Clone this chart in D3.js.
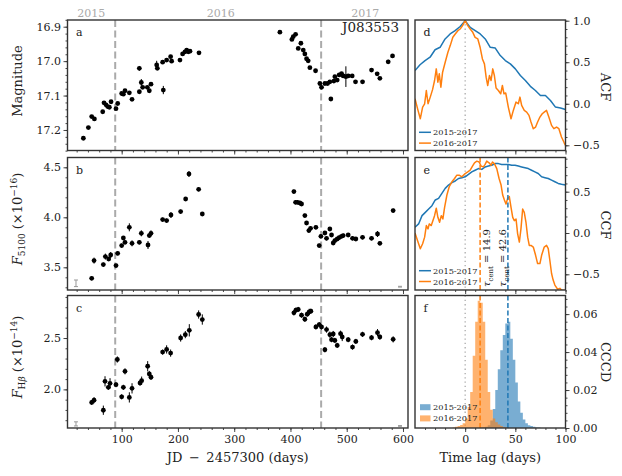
<!DOCTYPE html>
<html><head><meta charset="utf-8">
<script src="https://cdn.jsdelivr.net/npm/d3@7"></script>
<style>body{margin:0;background:#fff} svg{display:block}</style>
</head><body><svg id="c" width="622" height="476"></svg>
<script>
// ---------------- DATA ----------------
// Panel a: V-band magnitude light curve
const magJD = [31.9, 40.8, 46.7, 51.5, 66.3, 68.6, 72.2, 75.1, 78.1, 81.1, 89.9, 92.9, 100.0, 103.0, 105.9, 113.6, 118.4, 131.4, 131.4, 134.9, 137.3, 145.6, 149.1, 152.1, 162.2, 163.4, 172.8, 174.0, 179.9, 187.0, 188.8, 203.6, 208.3, 212.5, 215.5, 218.4, 221.4, 237.4, 381.2, 402.5, 404.9, 409.1, 413.8, 418.5, 422.7, 425.6, 428.6, 431.5, 434.5, 444.6, 452.3, 455.2, 461.2, 465.9, 470.0, 471.8, 477.1, 478.9, 483.1, 486.6, 490.8, 493.7, 498.5, 502.6, 509.7, 515.6, 528.1, 544.1, 554.1, 558.9, 573.7, 581.4];
const magVal = [17.224, 17.193, 17.161, 17.168, 17.147, 17.121, 17.127, 17.132, 17.134, 17.118, 17.138, 17.123, 17.094, 17.096, 17.086, 17.092, 17.111, 17.021, 17.089, 17.062, 17.076, 17.076, 17.086, 17.067, 17.011, 17.021, 17.003, 17.084, 16.997, 16.987, 17.000, 16.997, 16.979, 16.973, 16.968, 16.973, 16.971, 16.976, 16.916, 16.937, 16.929, 16.922, 16.963, 16.948, 16.968, 16.979, 16.993, 16.999, 17.019, 17.028, 17.065, 17.076, 17.065, 17.065, 17.060, 17.110, 17.058, 17.045, 17.055, 17.040, 17.036, 17.043, 17.045, 17.043, 17.043, 17.060, 17.060, 17.026, 17.037, 17.050, 17.002, 16.985];
const magErr = [0.004, 0.004, 0.004, 0.004, 0.004, 0.004, 0.004, 0.004, 0.004, 0.004, 0.004, 0.004, 0.004, 0.004, 0.004, 0.004, 0.004, 0.007, 0.004, 0.010, 0.004, 0.004, 0.004, 0.004, 0.012, 0.004, 0.004, 0.012, 0.004, 0.004, 0.004, 0.004, 0.004, 0.004, 0.004, 0.004, 0.004, 0.004, 0.004, 0.004, 0.004, 0.004, 0.004, 0.004, 0.004, 0.004, 0.004, 0.004, 0.004, 0.004, 0.004, 0.004, 0.004, 0.004, 0.004, 0.004, 0.004, 0.004, 0.004, 0.004, 0.004, 0.004, 0.030, 0.004, 0.004, 0.004, 0.004, 0.004, 0.004, 0.004, 0.006, 0.004];

// Panel b: 5100A continuum flux
const contJD = [46.7, 50.9, 67.4, 71.0, 76.9, 80.5, 89.9, 92.9, 100.0, 103.0, 105.9, 113.6, 118.4, 131.4, 134.9, 146.8, 149.1, 152.1, 172.8, 179.9, 187.6, 204.8, 213.7, 219.6, 236.8, 243.3, 406.1, 409.1, 412.6, 416.8, 419.7, 425.6, 428.6, 432.7, 435.7, 445.2, 451.1, 454.1, 461.2, 464.1, 470.0, 473.0, 476.0, 478.9, 483.1, 486.6, 490.8, 493.7, 502.6, 510.3, 516.2, 528.1, 544.1, 554.7, 558.9, 582.5];
const contVal = [3.39, 3.567, 3.527, 3.607, 3.583, 3.623, 3.517, 3.64, 3.717, 3.793, 3.75, 3.9, 3.74, 3.75, 3.84, 3.723, 3.817, 3.84, 3.977, 3.967, 4.023, 4.057, 4.183, 4.433, 4.28, 4.033, 4.257, 4.15, 4.15, 4.143, 4.133, 4.017, 3.943, 3.867, 3.89, 3.9, 3.717, 3.81, 3.843, 3.79, 3.883, 3.823, 3.743, 3.767, 3.783, 3.797, 3.81, 3.817, 3.823, 3.79, 3.783, 3.8, 3.79, 3.833, 3.74, 4.067];
const contErr = [0.02, 0.03, 0.02, 0.03, 0.02, 0.03, 0.02, 0.02, 0.02, 0.02, 0.02, 0.04, 0.03, 0.02, 0.03, 0.04, 0.02, 0.03, 0.02, 0.02, 0.03, 0.02, 0.02, 0.03, 0.02, 0.02, 0.02, 0.02, 0.02, 0.02, 0.02, 0.02, 0.02, 0.02, 0.02, 0.02, 0.02, 0.02, 0.02, 0.02, 0.02, 0.02, 0.02, 0.02, 0.02, 0.02, 0.02, 0.02, 0.02, 0.02, 0.02, 0.02, 0.02, 0.03, 0.02, 0.02];

// Panel c: H-beta flux
const hbJD = [46.7, 50.9, 67.4, 70.4, 76.3, 79.3, 89.9, 92.3, 100.0, 103.0, 105.9, 113.6, 118.4, 132.6, 135.5, 146.2, 149.1, 152.1, 172.8, 179.9, 187.0, 204.8, 213.1, 220.2, 236.8, 243.3, 406.1, 409.6, 413.8, 419.7, 425.6, 429.8, 433.3, 436.3, 445.2, 451.1, 455.2, 461.2, 464.1, 470.0, 473.0, 476.0, 478.9, 483.1, 489.0, 492.0, 502.6, 510.3, 516.2, 528.1, 544.1, 554.7, 558.9, 582.5];
const hbVal = [1.873, 1.895, 1.797, 2.078, 2.02, 2.059, 2.046, 2.291, 1.928, 2.02, 2.176, 1.922, 2.01, 2.062, 2.085, 2.225, 2.15, 2.118, 2.363, 2.389, 2.353, 2.5, 2.533, 2.575, 2.729, 2.68, 2.745, 2.771, 2.778, 2.722, 2.683, 2.732, 2.755, 2.761, 2.608, 2.631, 2.608, 2.386, 2.582, 2.533, 2.484, 2.539, 2.477, 2.428, 2.542, 2.51, 2.484, 2.412, 2.467, 2.536, 2.503, 2.552, 2.51, 2.487];
const hbErr = [0.025, 0.03, 0.045, 0.05, 0.025, 0.05, 0.025, 0.03, 0.025, 0.025, 0.03, 0.05, 0.05, 0.025, 0.04, 0.05, 0.03, 0.025, 0.025, 0.04, 0.035, 0.035, 0.035, 0.06, 0.04, 0.05, 0.025, 0.025, 0.025, 0.025, 0.025, 0.025, 0.03, 0.025, 0.025, 0.025, 0.025, 0.025, 0.03, 0.03, 0.025, 0.03, 0.025, 0.025, 0.03, 0.04, 0.025, 0.025, 0.025, 0.025, 0.025, 0.035, 0.025, 0.03];

// representative (systematic) error bars in panel corners
const repErrJD = [18.8, 594.7];
const contRepVal = [3.34, 3.306], contRepErr = [0.033, 0.004];
const hbRepVal = [1.664, 1.644], hbRepErr = [0.02, 0.003];

// year markers
const yearLabels = ["2015", "2016", "2017"];
const yearLabelJD = [46, 276, 533];
const yearStartJD = [88.5, 454.5];

// Panel d: ACF
const acfLag1517 = [-50, -45, -40, -35, -30, -25, -20, -15, -10, -5, 0, 5, 10, 15, 20, 25, 30, 35, 40, 45, 50, 55, 60, 65, 70, 75, 80, 85, 90, 95, 100];
const acf1517 = [0.40, 0.47, 0.52, 0.56, 0.65, 0.68, 0.78, 0.84, 0.88, 0.93, 1.00, 0.92, 0.88, 0.84, 0.78, 0.68, 0.67, 0.58, 0.52, 0.48, 0.42, 0.34, 0.28, 0.21, 0.16, 0.10, 0.10, 0.04, -0.04, -0.05, -0.07];
const acfLag1617 = [-50, -47, -44.7, -42.4, -40.4, -38.7, -37, -34.8, -32.5, -30.5, -28.8, -27.2, -25.8, -24.2, -22.5, -19.9, -17.2, -14.9, -12.3, -9.9, -7.3, -5, -2.6, 0, 2.6, 5, 7.6, 9.9, 12.6, 14.9, 17.2, 19.2, 20.9, 22.5, 24.2, 25.8, 27.5, 29.1, 30.8, 33.1, 35.4, 37.1, 38.7, 40.4, 43, 45.7, 48, 50.7, 53, 54.6, 56.3, 58.9, 61.3, 63.6, 65.6, 67.9, 70.2, 72.2, 74.5, 76.8, 78.8, 81.1, 83.4, 86.1, 88.4, 91.1, 93.4, 96, 98.7, 100];
const acf1617 = [0.06, -0.08, -0.18, -0.04, 0.00, 0.16, 0.00, 0.08, 0.17, 0.28, 0.42, 0.26, 0.36, 0.20, 0.38, 0.50, 0.62, 0.70, 0.80, 0.84, 0.88, 0.90, 0.94, 1.00, 0.94, 0.90, 0.86, 0.80, 0.78, 0.68, 0.54, 0.48, 0.32, 0.22, 0.34, 0.28, 0.42, 0.34, 0.19, 0.16, 0.12, 0.22, 0.12, 0.13, -0.04, -0.18, -0.08, 0.02, 0.00, 0.08, -0.02, -0.08, -0.10, -0.14, -0.22, -0.30, -0.28, -0.22, -0.16, -0.12, -0.10, -0.08, -0.16, -0.26, -0.30, -0.28, -0.30, -0.40, -0.47, -0.50];

// Panel e: CCF
const ccfLag1517 = [-50, -46.4, -43, -39.7, -36.4, -33.1, -29.8, -26.5, -23.2, -19.9, -16.6, -13.2, -9.9, -6.6, -3.3, 0, 3.3, 6.6, 9.9, 13.2, 16.6, 19.9, 23.2, 26.5, 29.8, 33.1, 36.4, 39.7, 43, 46.4, 49.7, 53, 56.3, 59.6, 62.9, 66.2, 69.5, 72.8, 76.2, 79.5, 82.8, 86.1, 89.4, 92.7, 96, 100];
const ccf1517 = [0.07, 0.11, 0.21, 0.25, 0.29, 0.33, 0.40, 0.42, 0.48, 0.54, 0.58, 0.61, 0.63, 0.66, 0.67, 0.68, 0.71, 0.74, 0.76, 0.78, 0.77, 0.80, 0.81, 0.82, 0.84, 0.84, 0.83, 0.83, 0.83, 0.82, 0.82, 0.81, 0.80, 0.79, 0.78, 0.76, 0.74, 0.72, 0.68, 0.67, 0.66, 0.64, 0.62, 0.60, 0.59, 0.58];
const ccfLag1617 = [-50, -47, -44.7, -42.4, -40.4, -38.7, -37, -35.8, -33.8, -32.1, -30.5, -28.8, -27.2, -25.5, -23.8, -22.2, -20.5, -18.2, -15.9, -13.2, -10.6, -8.3, -6, -3.3, 0, 2.6, 5, 7.3, 9.3, 11.6, 13.9, 15.9, 18.2, 19.9, 21.5, 23.8, 25.8, 27.2, 29.1, 31.5, 33.8, 35.8, 37.4, 39.1, 40.7, 42.4, 44, 45.7, 47.4, 49, 50.7, 52.3, 54, 55.6, 57.3, 58.9, 60.6, 62.3, 63.9, 65.6, 67.9, 70.2, 72.2, 74.5, 76.2, 78.8, 81.1, 82.8, 84.4, 86.1, 87.7, 89.4, 92.1, 94.4, 96, 100];
const ccf1617 = [0.00, -0.11, -0.19, -0.13, -0.05, 0.09, 0.05, 0.11, 0.09, 0.15, 0.21, 0.30, 0.19, 0.13, 0.21, 0.17, 0.31, 0.46, 0.56, 0.62, 0.66, 0.70, 0.70, 0.68, 0.72, 0.74, 0.76, 0.81, 0.85, 0.87, 0.86, 0.81, 0.80, 0.83, 0.87, 0.85, 0.82, 0.86, 0.84, 0.78, 0.66, 0.58, 0.46, 0.40, 0.35, 0.42, 0.44, 0.31, 0.19, 0.15, 0.17, -0.01, -0.11, 0.05, 0.29, 0.25, 0.13, -0.05, -0.15, -0.15, -0.17, -0.27, -0.37, -0.37, -0.27, -0.17, -0.15, -0.19, -0.33, -0.49, -0.57, -0.63, -0.68, -0.67, -0.69, -0.70];
const tauCent = [42.6, 14.9]; // 2015-2017, 2016-2017

// Panel f: CCCD histograms (left bin edges, width 2.5 d)
const cccdBinEdge = [-12.5, -10, -7.5, -5, -2.5, 0, 2.5, 5, 7.5, 10, 12.5, 15, 17.5, 20, 22.5, 25, 27.5, 30, 32.5, 35, 37.5, 40, 42.5, 45, 47.5, 50, 52.5, 55, 57.5, 60, 62.5, 65, 67.5, 70, 72.5];
const cccdBinWidth = 2.5;
const cccd1517 = [0, 0, 0, 0, 0, 0, 0, 0, 0, 0, 0, 0.0002, 0.0004, 0.0006, 0.0015, 0.004, 0.010, 0.020, 0.031, 0.041, 0.049, 0.055, 0.056, 0.047, 0.036, 0.024, 0.014, 0.008, 0.0045, 0.0025, 0.0015, 0.001, 0.0006, 0.0003, 0.0002];
const cccd1617 = [0.0003, 0.0006, 0.001, 0.0016, 0.0025, 0.005, 0.011, 0.019, 0.038, 0.056, 0.067, 0.066, 0.056, 0.036, 0.019, 0.0096, 0.005, 0.003, 0.0018, 0.001, 0.0005, 0.0003, 0, 0, 0, 0, 0, 0, 0, 0, 0, 0, 0, 0, 0];

const seriesNames = ["2015-2017", "2016-2017"];

// ticks
const jdTicks = [100, 200, 300, 400, 500, 600];
const magTicks = [16.9, 17.0, 17.1, 17.2];
const contTicks = [3.5, 4.0, 4.5];
const hbTicks = [2.0, 2.5];
const lagTicks = [0, 50, 100];
const acfTicks = [-0.5, 0.0, 0.5, 1.0];
const ccfTicks = [-0.5, 0.0, 0.5];
const cccdTicks = [0.00, 0.02, 0.04, 0.06];

// ---------------- LAYOUT ----------------
const FONT = '"DejaVu Serif", serif';
const BLUE = "#1f77b4", ORANGE = "#ff7f0e", GREY = "#aaaaaa", INK = "#222", FRAME = "#333";
const svg = d3.select("#c");
const L = {x0: 67.5, x1: 408}, R = {x0: 415, x1: 565.5};
const rows = [{y0: 20, y1: 150.5}, {y0: 157.5, y1: 290}, {y0: 295.5, y1: 428}];

const xJD = d3.scaleLinear().domain([3.7, 608.9]).range([L.x0, L.x1]);
const xLag = d3.scaleLinear().domain([-50, 100]).range([R.x0, R.x1]);
const yMag = d3.scaleLinear().domain([16.8805, 17.2596]).range([rows[0].y0, rows[0].y1]);
const yCont = d3.scaleLinear().domain([3.273, 4.598]).range([rows[1].y1, rows[1].y0]);
const yHb = d3.scaleLinear().domain([1.624, 2.914]).range([rows[2].y1, rows[2].y0]);
const yACF = d3.scaleLinear().domain([-0.5626, 1.0084]).range([rows[0].y1, rows[0].y0]);
const yCCF = d3.scaleLinear().domain([-0.690, 0.914]).range([rows[1].y1, rows[1].y0]);
const yCCCD = d3.scaleLinear().domain([0, 0.0698]).range([rows[2].y1, rows[2].y0]);

const defs = svg.append("defs");
function clip(id, c, r) {
  defs.append("clipPath").attr("id", id).append("rect")
    .attr("x", c.x0).attr("y", r.y0).attr("width", c.x1 - c.x0).attr("height", r.y1 - r.y0);
  return svg.append("g").attr("clip-path", `url(#${id})`);
}

function drawAxis(orient, scale, pos, major, minor, fmt, labels) {
  const mk = {left: d3.axisLeft, right: d3.axisRight, bottom: d3.axisBottom}[orient];
  const tr = orient === "bottom" ? `translate(0,${pos})` : `translate(${pos},0)`;
  const gm = svg.append("g").attr("transform", tr).call(mk(scale).tickValues(minor).tickSize(2).tickFormat(""));
  const gM = svg.append("g").attr("transform", tr)
    .call(mk(scale).tickValues(major).tickSize(4).tickPadding(orient === "left" ? 2.5 : 3.5).tickFormat(labels ? d3.format(fmt) : ""));
  [gm, gM].forEach(g => { g.select(".domain").remove(); g.selectAll("line").attr("stroke", FRAME).attr("stroke-width", 0.9); });
  gM.selectAll("text").attr("font-family", FONT).attr("font-size", 11).attr("fill", INK);
}
const rng = (a, b, s) => d3.range(Math.round(a / s), Math.round(b / s) + 1).map(k => +(k * s).toFixed(6));

// ---------------- LEFT PANELS ----------------
function lightCurve(id, row, y, xs, vs, es, repVals, repErrs) {
  const g = clip(id, L, row);
  // year dividers
  g.selectAll("line.yr").data(yearStartJD).join("line")
    .attr("x1", d => xJD(d)).attr("x2", d => xJD(d)).attr("y1", row.y0).attr("y2", row.y1)
    .attr("stroke", GREY).attr("stroke-width", 2).attr("stroke-dasharray", "7,3.5");
  const pts = xs.map((d, i) => ({x: d, v: vs[i], e: es[i]}));
  g.selectAll("line.eb").data(pts).join("line")
    .attr("x1", d => xJD(d.x)).attr("x2", d => xJD(d.x))
    .attr("y1", d => y(d.v - d.e)).attr("y2", d => y(d.v + d.e))
    .attr("stroke", "#000").attr("stroke-width", 1);
  g.selectAll("circle").data(pts).join("circle")
    .attr("cx", d => xJD(d.x)).attr("cy", d => y(d.v)).attr("r", 2.4).attr("fill", "#000");
  if (repVals) {
    const rp = repErrJD.map((d, i) => ({x: d, v: repVals[i], e: repErrs[i]}));
    rp.forEach(d => {
      const cx = xJD(d.x), ya = y(d.v - d.e), yb = y(d.v + d.e);
      g.append("line").attr("x1", cx).attr("x2", cx).attr("y1", ya).attr("y2", yb).attr("stroke", "#999").attr("stroke-width", 1);
      [ya, yb].forEach(yy => g.append("line").attr("x1", cx - 2).attr("x2", cx + 2).attr("y1", yy).attr("y2", yy).attr("stroke", "#999").attr("stroke-width", 1));
    });
  }
}
lightCurve("ca", rows[0], yMag, magJD, magVal, magErr, null, null);
lightCurve("cb", rows[1], yCont, contJD, contVal, contErr, contRepVal, contRepErr);
lightCurve("cc", rows[2], yHb, hbJD, hbVal, hbErr, hbRepVal, hbRepErr);

drawAxis("left", yMag, L.x0, magTicks, rng(16.88, 17.26, 0.02), ".1f", true);
drawAxis("left", yCont, L.x0, contTicks, rng(3.3, 4.5, 0.1), ".1f", true);
drawAxis("left", yHb, L.x0, hbTicks, rng(1.7, 2.9, 0.1), ".1f", true);
const jdMinor = rng(20, 600, 20);
rows.forEach((r, i) => drawAxis("bottom", xJD, r.y1, jdTicks, jdMinor, "d", i === 2));

// year labels on top
svg.selectAll("text.year").data(yearLabels).join("text")
  .attr("x", (d, i) => xJD(yearLabelJD[i])).attr("y", 16.5).attr("text-anchor", "middle")
  .attr("font-family", FONT).attr("font-size", 11).attr("fill", GREY).text(d => d);

// ---------------- RIGHT PANELS ----------------
const gd = clip("cd", R, rows[0]);
const ge = clip("ce", R, rows[1]);
const gf = clip("cf", R, rows[2]);
[[gd, rows[0]], [ge, rows[1]], [gf, rows[2]]].forEach(([g, r]) =>
  g.append("line").attr("x1", xLag(0)).attr("x2", xLag(0)).attr("y1", r.y0).attr("y2", r.y1)
    .attr("stroke", GREY).attr("stroke-width", 1.3).attr("stroke-dasharray", "1.3,3"));

function curve(g, y, lags, vals, color) {
  g.append("path").datum(lags.map((d, i) => [d, vals[i]]))
    .attr("d", d3.line().x(d => xLag(d[0])).y(d => y(d[1])))
    .attr("fill", "none").attr("stroke", color).attr("stroke-width", 1.5).attr("stroke-linejoin", "round");
}
curve(gd, yACF, acfLag1517, acf1517, BLUE);
curve(gd, yACF, acfLag1617, acf1617, ORANGE);
curve(ge, yCCF, ccfLag1517, ccf1517, BLUE);
curve(ge, yCCF, ccfLag1617, ccf1617, ORANGE);

// histograms
function hist(vals, color) {
  const pts = cccdBinEdge.map((e, i) => [e, vals[i]]);
  pts.push([cccdBinEdge[cccdBinEdge.length - 1] + cccdBinWidth, 0]);
  gf.append("path").datum(pts)
    .attr("d", d3.area().curve(d3.curveStepAfter).x(d => xLag(d[0])).y0(yCCCD(0)).y1(d => yCCCD(d[1])))
    .attr("fill", color).attr("fill-opacity", 0.6);
}
hist(cccd1517, BLUE);
hist(cccd1617, ORANGE);

// centroid lags
[[ge, rows[1]], [gf, rows[2]]].forEach(([g, r]) => {
  [[tauCent[1], ORANGE], [tauCent[0], BLUE]].forEach(([t, c]) =>
    g.append("line").attr("x1", xLag(t)).attr("x2", xLag(t)).attr("y1", r.y0).attr("y2", r.y1)
      .attr("stroke", c).attr("stroke-width", 1.5).attr("stroke-dasharray", "5,2.5"));
});
function tauLabel(xpos, val) {
  const t = svg.append("text").attr("transform", `translate(${xpos},287) rotate(-90)`)
    .attr("font-family", FONT).attr("font-size", 10).attr("fill", INK);
  t.append("tspan").attr("font-style", "italic").text("τ");
  t.append("tspan").attr("font-size", 7).attr("dy", 2.5).text("cent");
  t.append("tspan").attr("dy", -2.5).text(" = " + val.toFixed(1));
}
tauLabel(xLag(tauCent[1]) + 10, tauCent[1]);
tauLabel(xLag(tauCent[0]) - 1.5, tauCent[0]);

drawAxis("right", yACF, R.x1, acfTicks, rng(-0.5, 1.0, 0.1), ".1f", true);
drawAxis("right", yCCF, R.x1, ccfTicks, rng(-0.6, 0.9, 0.1), ".1f", true);
drawAxis("right", yCCCD, R.x1, cccdTicks, rng(0, 0.068, 0.004), ".2f", true);
const lagMinor = rng(-40, 100, 10);
rows.forEach((r, i) => drawAxis("bottom", xLag, r.y1, lagTicks, lagMinor, "d", i === 2));

// legends
function lineLegend(yTop) {
  [BLUE, ORANGE].forEach((c, i) => {
    const yy = yTop + i * 10.8;
    svg.append("line").attr("x1", 419).attr("x2", 431).attr("y1", yy).attr("y2", yy).attr("stroke", c).attr("stroke-width", 1.5);
    svg.append("text").attr("x", 433).attr("y", yy + 3).attr("font-family", FONT).attr("font-size", 8.2).attr("fill", INK).text(seriesNames[i]);
  });
}
lineLegend(132.3);
lineLegend(270.7);
[BLUE, ORANGE].forEach((c, i) => {
  const yy = 407.2 + i * 11.2;
  svg.append("rect").attr("x", 420).attr("y", yy - 3).attr("width", 10.5).attr("height", 6).attr("fill", c).attr("fill-opacity", 0.6);
  svg.append("text").attr("x", 433).attr("y", yy + 3).attr("font-family", FONT).attr("font-size", 8.2).attr("fill", INK).text(seriesNames[i]);
});

// ---------------- FRAMES & LABELS ----------------
rows.forEach(r => [L, R].forEach(c =>
  svg.append("rect").attr("x", c.x0).attr("y", r.y0).attr("width", c.x1 - c.x0).attr("height", r.y1 - r.y0)
    .attr("fill", "none").attr("stroke", FRAME).attr("stroke-width", 1.4)));

const letters = [["a", L, 0], ["b", L, 1], ["c", L, 2], ["d", R, 0], ["e", R, 1], ["f", R, 2]];
letters.forEach(([t, c, i]) => svg.append("text").attr("x", c.x0 + 8.5).attr("y", rows[i].y0 + 16)
  .attr("font-family", FONT).attr("font-size", 11).attr("fill", INK).text(t));

svg.append("text").attr("x", 399).attr("y", 32).attr("text-anchor", "end")
  .attr("font-family", FONT).attr("font-size", 13.5).attr("fill", INK).text("J083553");

function leftLabel(cy, build) {
  const t = svg.append("text").attr("transform", `translate(22,${cy}) rotate(-90)`).attr("text-anchor", "middle")
    .attr("font-family", FONT).attr("font-size", 13).attr("fill", INK);
  build(t);
}
leftLabel(81, t => t.text("Magnitude"));
leftLabel(219, t => {
  t.append("tspan").attr("font-style", "italic").text("F");
  t.append("tspan").attr("font-size", 9).attr("dy", 3).text("5100");
  t.append("tspan").attr("dy", -3).text(" (×10");
  t.append("tspan").attr("font-size", 9).attr("dy", -5).text("−16");
  t.append("tspan").attr("dy", 5).text(")");
});
leftLabel(357, t => {
  t.append("tspan").attr("font-style", "italic").text("F");
  t.append("tspan").attr("font-size", 9).attr("dy", 3).text("H");
  t.append("tspan").attr("font-size", 9).attr("font-style", "italic").text("β");
  t.append("tspan").attr("dy", -3).text(" (×10");
  t.append("tspan").attr("font-size", 9).attr("dy", -5).text("−14");
  t.append("tspan").attr("dy", 5).text(")");
});
function rightLabel(cy, txt) {
  svg.append("text").attr("transform", `translate(601,${cy}) rotate(90)`).attr("text-anchor", "middle")
    .attr("font-family", FONT).attr("font-size", 13).attr("fill", INK).text(txt);
}
rightLabel(87, "ACF");
rightLabel(225, "CCF");
rightLabel(362, "CCCD");

svg.append("text").attr("x", (L.x0 + L.x1) / 2).attr("y", 462).attr("text-anchor", "middle")
  .attr("font-family", FONT).attr("font-size", 13).attr("fill", INK).text("JD\u2002−\u20022457300 (days)");
svg.append("text").attr("x", (R.x0 + R.x1) / 2).attr("y", 462).attr("text-anchor", "middle")
  .attr("font-family", FONT).attr("font-size", 13).attr("fill", INK).text("Time lag (days)");
</script>
</body></html>
